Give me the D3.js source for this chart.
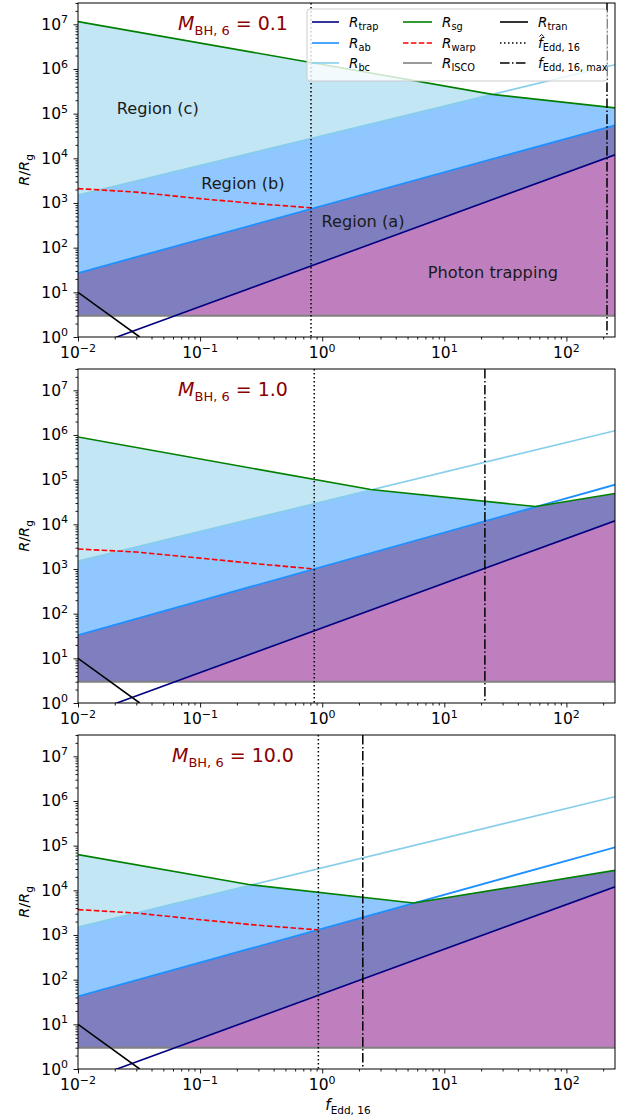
<!DOCTYPE html>
<html><head><meta charset="utf-8">
<script src="https://cdn.jsdelivr.net/npm/d3@7"></script>
<style>body{margin:0;background:#fff} svg{display:block;font-family:"DejaVu Sans",sans-serif}</style>
</head><body><svg id="c" width="632" height="1120"></svg>
<script>
// ---------------- data ----------------
const massLabels = ["0.1", "1.0", "10.0"];
const xTickValues = [0.01, 0.1, 1, 10, 100];
const xTickExps = ["\u22122", "\u22121", "0", "1", "2"];
const yTickValues = [1, 10, 100, 1e3, 1e4, 1e5, 1e6, 1e7];
const yTickExps = ["0", "1", "2", "3", "4", "5", "6", "7"];
const fHat = [0.81, 0.86, 0.93];
const fMax = [215, 21.5, 2.15];
const rTrap = [[0.01, 0.48], [250, 12000]];
const rBc = [[0.01, 1500], [250, 1.25e6]];
const rIsco = [[0.01, 3], [250, 3]];
const rTran = [[0.01, 10], [0.032, 1]];
const rAb = [
  [[0.01, 27], [250, 55000]],
  [[0.01, 33], [250, 77000]],
  [[0.01, 42], [250, 92000]]
];
const rSg = [
  [[0.01, 1.15e7], [24.7, 2.7e5], [250, 1.35e5]],
  [[0.01, 9e5], [2.5, 6e4], [56, 2.5e4], [250, 4.9e4]],
  [[0.01, 6.3e4], [0.25, 1.35e4], [5.6, 5.2e3], [250, 2.8e4]]
];
const rWarp = [
  [[0.01, 2100], [0.03, 1750], [0.1, 1250], [0.3, 960], [0.81, 780]],
  [[0.01, 2800], [0.03, 2400], [0.1, 1750], [0.3, 1300], [0.86, 1000]],
  [[0.01, 3700], [0.03, 3100], [0.1, 2200], [0.3, 1650], [0.93, 1300]]
];
const regionLabels = ["Region (c)", "Region (b)", "Region (a)", "Photon trapping"];
const regionLabelPos = [[0.045, 1.0e5], [0.224, 2.05e3], [2.16, 290], [25, 21]];

// ---------------- layout ----------------
const svg = d3.select("#c");
const L = 78, R = 615, H = 334;
const bottoms = [337, 703, 1069];
const COL = {trap:"#000080", ab:"#1e90ff", bc:"#87ceeb", sg:"#008000", warp:"#ff0000", isco:"#808080", tran:"#000000"};
const FILL = {c:"#c3e6f5", b:"#8fc7fe", a:"#7f7fbf", p:"#bf7fbf"};

const x = d3.scaleLog().domain([0.01, 250]).range([L, R]);

function interp(pts, f) {
  const lf = Math.log10(f);
  let i = 0;
  while (i < pts.length - 2 && lf > Math.log10(pts[i + 1][0])) i++;
  const x0 = Math.log10(pts[i][0]), x1 = Math.log10(pts[i + 1][0]);
  const y0 = Math.log10(pts[i][1]), y1 = Math.log10(pts[i + 1][1]);
  return Math.pow(10, y0 + (y1 - y0) * (lf - x0) / (x1 - x0));
}

const lmin = -2, lmax = Math.log10(250);
const grid = d3.range(0, 801).map(i => Math.pow(10, lmin + i * (lmax - lmin) / 800));

function mathText(sel, base, sub, opts) {
  sel.append("tspan").attr("font-style", "italic").text(base);
  sel.append("tspan").attr("font-size", opts.subSize).attr("dy", opts.subDy).text(sub);
}

massLabels.forEach((m, p) => {
  const bottom = bottoms[p], top = bottom - H;
  const y = d3.scaleLog().domain([1, 3e7]).range([bottom, top]);
  const g = svg.append("g");
  const cid = "clip" + p;
  svg.append("clipPath").attr("id", cid).append("rect").attr("x", L).attr("y", top).attr("width", R - L).attr("height", H);
  const plot = g.append("g").attr("clip-path", `url(#${cid})`);

  const rows = grid.map(f => {
    const trap = interp(rTrap, f), ab = interp(rAb[p], f), bc = interp(rBc, f), sg = interp(rSg[p], f), isco = 3;
    return {f, trap, ab, bc, sg, isco};
  });
  const area = (lo, hi) => d3.area().x(d => x(d.f)).y0(d => y(lo(d))).y1(d => y(Math.max(lo(d), hi(d))));
  plot.append("path").datum(rows).attr("fill", FILL.c).attr("d", area(d => d.bc, d => d.sg));
  plot.append("path").datum(rows).attr("fill", FILL.b).attr("d", area(d => d.ab, d => Math.min(d.bc, d.sg)));
  plot.append("path").datum(rows).attr("fill", FILL.a).attr("d", area(d => Math.max(d.trap, d.isco), d => Math.min(d.ab, d.sg)));
  plot.append("path").datum(rows).attr("fill", FILL.p).attr("d", area(d => d.isco, d => Math.max(d.trap, d.isco)));

  const line = d3.line().x(d => x(d[0])).y(d => y(d[1]));
  const drawLine = (pts, color, w, dash) => {
    const s = plot.append("path").datum(pts).attr("fill", "none").attr("stroke", color).attr("stroke-width", w).attr("d", line);
    if (dash) s.attr("stroke-dasharray", dash);
    return s;
  };
  drawLine(rIsco, COL.isco, 2);
  drawLine(rBc, COL.bc, 1.6);
  drawLine(rAb[p], COL.ab, 1.8);
  drawLine(rTrap, COL.trap, 1.6);
  drawLine(rSg[p], COL.sg, 1.6);
  drawLine(rWarp[p], COL.warp, 1.6, "5.5,2.4");
  drawLine(rTran, COL.tran, 1.6);
  plot.append("line").attr("x1", x(fHat[p])).attr("x2", x(fHat[p])).attr("y1", top).attr("y2", bottom)
    .attr("stroke", "#000").attr("stroke-width", 1.5).attr("stroke-dasharray", "1.5,2.5");
  plot.append("line").attr("x1", x(fMax[p])).attr("x2", x(fMax[p])).attr("y1", top).attr("y2", bottom)
    .attr("stroke", "#000").attr("stroke-width", 1.5).attr("stroke-dasharray", "9.6,2.4,1.5,2.4");

  // axes
  const minorX = [];
  for (let e = -2; e <= 2; e++) for (let k = 2; k <= 9; k++) { const v = k * Math.pow(10, e); if (v <= 250) minorX.push(v); }
  const minorY = [];
  for (let e = 0; e <= 7; e++) for (let k = 2; k <= 9; k++) { const v = k * Math.pow(10, e); if (v <= 3e7) minorY.push(v); }
  const ax = g.append("g").attr("transform", `translate(0,${bottom})`);
  ax.call(d3.axisBottom(x).tickValues(xTickValues).tickSize(4.5).tickSizeOuter(0).tickFormat(() => ""));
  ax.append("g").call(d3.axisBottom(x).tickValues(minorX).tickSize(2.5).tickSizeOuter(0).tickFormat(() => ""));
  const ay = g.append("g").attr("transform", `translate(${L},0)`);
  ay.call(d3.axisLeft(y).tickValues(yTickValues).tickSize(4.5).tickSizeOuter(0).tickFormat(() => ""));
  ay.append("g").call(d3.axisLeft(y).tickValues(minorY).tickSize(2.5).tickSizeOuter(0).tickFormat(() => ""));
  g.selectAll(".domain").remove();
  g.selectAll(".tick line").attr("stroke", "#000").attr("stroke-width", 0.9);
  g.append("rect").attr("x", L).attr("y", top).attr("width", R - L).attr("height", H)
    .attr("fill", "none").attr("stroke", "#000").attr("stroke-width", 1);

  xTickValues.forEach((v, i) => {
    const t = g.append("text").attr("x", x(v)).attr("y", bottom + 21).attr("text-anchor", "middle").attr("font-size", 15.5).attr("fill", "#000");
    t.append("tspan").text("10");
    t.append("tspan").attr("font-size", 11).attr("dy", -6.5).text(xTickExps[i]);
  });
  yTickValues.forEach((v, i) => {
    const t = g.append("text").attr("x", 68).attr("y", y(v) + 5.5).attr("text-anchor", "end").attr("font-size", 15.5).attr("fill", "#000");
    t.append("tspan").text("10");
    t.append("tspan").attr("font-size", 11).attr("dy", -6.5).text(yTickExps[i]);
  });
  const yl = g.append("text").attr("transform", `translate(29,${(top + bottom) / 2}) rotate(-90)`)
    .attr("text-anchor", "middle").attr("font-size", 14.5).attr("fill", "#000");
  yl.append("tspan").attr("font-style", "italic").text("R");
  yl.append("tspan").text("/");
  yl.append("tspan").attr("font-style", "italic").text("R");
  yl.append("tspan").attr("font-size", 10.5).attr("dy", 3.5).text("g");

  const tt = g.append("text").attr("x", 233).attr("y", top + 27).attr("text-anchor", "middle")
    .attr("font-size", 19).attr("fill", "#8b0000");
  tt.append("tspan").attr("font-style", "italic").text("M");
  tt.append("tspan").attr("font-size", 13).attr("dy", 5).text("BH, 6");
  tt.append("tspan").attr("dy", -5).text(" = " + m);

  if (p === 0) {
    regionLabels.forEach((s, i) => {
      g.append("text").attr("x", x(regionLabelPos[i][0])).attr("y", y(regionLabelPos[i][1]))
        .attr("text-anchor", "middle").attr("font-size", 16.2).attr("fill", "#1a1a1a").text(s);
    });
    const lg = g.append("g");
    lg.append("rect").attr("x", 307).attr("y", 9).attr("width", 300).attr("height", 72).attr("rx", 3)
      .attr("fill", "#fff").attr("fill-opacity", 0.8).attr("stroke", "#cccccc").attr("stroke-width", 1);
    const items = [
      {b:"R", s:"trap", c:COL.trap}, {b:"R", s:"ab", c:COL.ab}, {b:"R", s:"bc", c:COL.bc},
      {b:"R", s:"sg", c:COL.sg}, {b:"R", s:"warp", c:COL.warp, d:"5.5,2.4"}, {b:"R", s:"ISCO", c:COL.isco},
      {b:"R", s:"tran", c:COL.tran}, {b:"f", s:"Edd, 16", c:"#000", d:"1.5,2.5", hat:true}, {b:"f", s:"Edd, 16, max", c:"#000", d:"9.6,2.4,1.5,2.4"}
    ];
    const colX = [[312, 339, 349], [403, 432, 442], [500, 528, 538]];
    const rowY = [22, 43, 63];
    items.forEach((it, k) => {
      const c = Math.floor(k / 3), r = k % 3;
      const ln = lg.append("line").attr("x1", colX[c][0]).attr("x2", colX[c][1]).attr("y1", rowY[r]).attr("y2", rowY[r])
        .attr("stroke", it.c).attr("stroke-width", 1.6);
      if (it.d) ln.attr("stroke-dasharray", it.d);
      const t = lg.append("text").attr("x", colX[c][2]).attr("y", rowY[r] + 4.5).attr("font-size", 13.5).attr("fill", "#000");
      mathText(t, it.b, it.s, {subSize: 9.8, subDy: 3});
      if (it.hat) {
        const hx = colX[c][2] + 3.6, hy = rowY[r] - 8.5;
        lg.append("path").attr("d", `M${hx - 2.2},${hy + 2} L${hx},${hy} L${hx + 2.2},${hy + 2}`)
          .attr("fill", "none").attr("stroke", "#000").attr("stroke-width", 0.9);
      }
    });
  }
});

const xl = svg.append("text").attr("x", 348).attr("y", 1110).attr("text-anchor", "middle").attr("font-size", 15).attr("fill", "#000");
xl.append("tspan").attr("font-style", "italic").text("f");
xl.append("tspan").attr("font-size", 10.5).attr("dy", 3.5).text("Edd, 16");
</script></body></html>
